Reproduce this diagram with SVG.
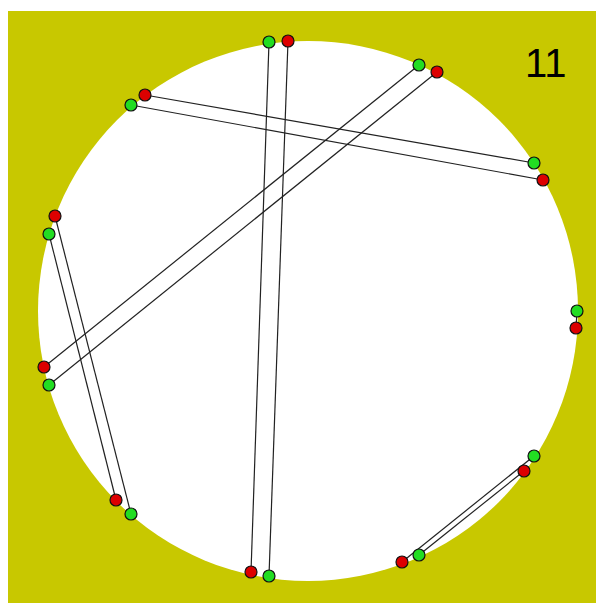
<svg xmlns="http://www.w3.org/2000/svg" width="596" height="603" viewBox="0 0 596 603">
<style>
.g{fill:#22dd22;stroke:#111;stroke-width:1.2}
.r{fill:#dd0000;stroke:#111;stroke-width:1.2}
.c line{stroke:#222;stroke-width:1.2}
</style>
<rect x="0" y="0" width="596" height="603" fill="#fff"/>
<rect x="8" y="11" width="588" height="592" fill="#c8c800"/>
<circle cx="308" cy="311" r="270" fill="#fff"/>
<text x="525" y="77" font-family="Liberation Sans, Arial, sans-serif" font-size="40" fill="#000">11</text>
<g id="connectors" class="c">
<line x1="269" y1="42" x2="251" y2="572"/>
<line x1="288" y1="41" x2="269" y2="576"/>
<line x1="145" y1="95" x2="534" y2="163"/>
<line x1="131" y1="105" x2="543" y2="180"/>
<line x1="419" y1="65" x2="44" y2="367"/>
<line x1="437" y1="72" x2="49" y2="385"/>
<line x1="55" y1="216" x2="131" y2="514"/>
<line x1="49" y1="234" x2="116" y2="500"/>
<line x1="534" y1="456" x2="402" y2="562"/>
<line x1="524" y1="471" x2="419" y2="555"/>
<line x1="577" y1="311" x2="576" y2="328"/>
</g>
<g id="n1"><circle class="g" cx="269" cy="42" r="6"/><circle class="r" cx="288" cy="41" r="6"/></g>
<g id="n2"><circle class="g" cx="419" cy="65" r="6"/><circle class="r" cx="437" cy="72" r="6"/></g>
<g id="n3"><circle class="r" cx="145" cy="95" r="6"/><circle class="g" cx="131" cy="105" r="6"/></g>
<g id="n4"><circle class="g" cx="534" cy="163" r="6"/><circle class="r" cx="543" cy="180" r="6"/></g>
<g id="n5"><circle class="r" cx="55" cy="216" r="6"/><circle class="g" cx="49" cy="234" r="6"/></g>
<g id="n6"><circle class="g" cx="577" cy="311" r="6"/><circle class="r" cx="576" cy="328" r="6"/></g>
<g id="n7"><circle class="r" cx="44" cy="367" r="6"/><circle class="g" cx="49" cy="385" r="6"/></g>
<g id="n8"><circle class="g" cx="534" cy="456" r="6"/><circle class="r" cx="524" cy="471" r="6"/></g>
<g id="n9"><circle class="r" cx="116" cy="500" r="6"/><circle class="g" cx="131" cy="514" r="6"/></g>
<g id="n10"><circle class="r" cx="251" cy="572" r="6"/><circle class="g" cx="269" cy="576" r="6"/></g>
<g id="n11"><circle class="g" cx="419" cy="555" r="6"/><circle class="r" cx="402" cy="562" r="6"/></g>
</svg>
